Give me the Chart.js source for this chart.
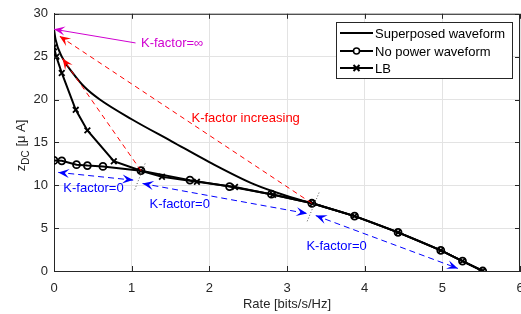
<!DOCTYPE html>
<html>
<head>
<meta charset="utf-8">
<script src="https://cdn.jsdelivr.net/npm/chart.js@4.4.0/dist/chart.umd.min.js"></script>
<style>
  html, body { margin: 0; padding: 0; background: #fff; }
</style>
</head>
<body>
<canvas id="mainChart" width="521" height="314"></canvas>
<script>
// data
const superposedRate = [0, 0.02, 0.1, 0.25, 0.4, 0.59, 1.0, 1.52, 2.0, 2.58, 3.0, 3.32, 3.87, 4.43, 4.98, 5.26, 5.52];
const superposedZ = [28.2, 27.0, 25.0, 23.0, 21.4, 20.0, 17.7, 15.1, 12.7, 10.1, 8.75, 7.9, 6.4, 4.5, 2.4, 1.15, 0];

const noPowerRate = [0, 0.1, 0.29, 0.43, 0.63, 1.12, 1.75, 2.26, 2.8, 3.32, 3.87, 4.43, 4.98, 5.26, 5.52];
const noPowerZ = [12.9, 12.85, 12.4, 12.3, 12.2, 11.7, 10.6, 9.85, 8.96, 7.9, 6.4, 4.5, 2.4, 1.15, 0];

const lbRate = [0, 0.03, 0.1, 0.28, 0.43, 0.77, 1.12, 1.39, 1.84, 2.33, 2.82, 3.33, 3.87, 4.43, 4.98, 5.26, 5.52];
const lbZ = [26.1, 25.0, 23.1, 18.8, 16.4, 12.8, 11.7, 11.0, 10.4, 9.8, 8.9, 7.9, 6.4, 4.5, 2.4, 1.15, 0];

const seriesLabels = ["Superposed waveform", "No power waveform", "LB"];
const xTicks = [0, 1, 2, 3, 4, 5, 6];
const yTicks = [0, 5, 10, 15, 20, 25, 30];

// annotations, in data units
const arrows = [
  { from: [1.05, 26.6], to: [0.0, 28.2], color: "#d000d0", dash: [], heads: "end" },
  { from: [3.32, 7.9], to: [0.07, 27.4], color: "#ff0000", dash: [5, 4], heads: "end" },
  { from: [1.12, 11.7], to: [0.11, 24.8], color: "#ff0000", dash: [5, 4], heads: "end" },
  { from: [0.055, 11.5], to: [1.02, 10.6], color: "#0000ff", dash: [6, 4], heads: "both" },
  { from: [1.14, 10.2], to: [3.26, 6.7], color: "#0000ff", dash: [6, 4], heads: "both" },
  { from: [3.37, 6.46], to: [5.2, 0.3], color: "#0000ff", dash: [6, 4], heads: "both" }
];
const dottedMarks = [
  { from: [1.04, 9.5], to: [1.18, 12.7] },
  { from: [3.26, 5.8], to: [3.42, 9.3] }
];
const notes = [
  { text: "K-factor=\u221E", at: [1.12, 26.5], color: "#d000d0" },
  { text: "K-factor increasing", at: [1.77, 17.8], color: "#ff0000" },
  { text: "K-factor=0", at: [0.12, 9.6], color: "#0000ff" },
  { text: "K-factor=0", at: [1.23, 7.8], color: "#0000ff" },
  { text: "K-factor=0", at: [3.25, 2.9], color: "#0000ff" }
];

const FONT = "'Liberation Sans', Arial, Helvetica, sans-serif";
const AXIS = "#262626";

function toPoints(xs, ys) {
  return xs.map((x, i) => ({ x, y: ys[i] }));
}

function drawHead(ctx, x1, y1, x2, y2, color) {
  const ang = Math.atan2(y2 - y1, x2 - x1);
  const L = 11, W = 4.5;
  ctx.save();
  ctx.translate(x2, y2);
  ctx.rotate(ang);
  ctx.setLineDash([]);
  ctx.fillStyle = color;
  ctx.beginPath();
  ctx.moveTo(0, 0);
  ctx.lineTo(-L, -W);
  ctx.lineTo(-L * 0.6, 0);
  ctx.lineTo(-L, W);
  ctx.closePath();
  ctx.fill();
  ctx.restore();
}

const figurePlugin = {
  id: "figurePlugin",
  afterDraw(chart) {
    const { ctx, chartArea: a, scales } = chart;
    const sx = scales.x, sy = scales.y;

    // box and inward ticks
    ctx.save();
    ctx.strokeStyle = AXIS;
    ctx.lineWidth = 1;
    ctx.beginPath();
    ctx.moveTo(a.left + 0.5, a.top + 0.5);
    ctx.lineTo(a.right - 0.5, a.top + 0.5);
    ctx.lineTo(a.right - 0.5, a.bottom);
    ctx.stroke();
    ctx.beginPath();
    xTicks.forEach(v => {
      const px = Math.round(sx.getPixelForValue(v)) + 0.5;
      ctx.moveTo(px, a.bottom); ctx.lineTo(px, a.bottom - 5);
      ctx.moveTo(px, a.top); ctx.lineTo(px, a.top + 5);
    });
    yTicks.forEach(v => {
      const py = Math.round(sy.getPixelForValue(v)) + 0.5;
      ctx.moveTo(a.left, py); ctx.lineTo(a.left + 5, py);
      ctx.moveTo(a.right, py); ctx.lineTo(a.right - 5, py);
    });
    ctx.stroke();
    ctx.restore();

    // dotted tangent marks
    ctx.save();
    ctx.strokeStyle = "#555";
    ctx.lineWidth = 1;
    ctx.setLineDash([1, 2]);
    dottedMarks.forEach(m => {
      ctx.beginPath();
      ctx.moveTo(sx.getPixelForValue(m.from[0]), sy.getPixelForValue(m.from[1]));
      ctx.lineTo(sx.getPixelForValue(m.to[0]), sy.getPixelForValue(m.to[1]));
      ctx.stroke();
    });
    ctx.restore();

    // arrows
    arrows.forEach(ar => {
      const x1 = sx.getPixelForValue(ar.from[0]), y1 = sy.getPixelForValue(ar.from[1]);
      const x2 = sx.getPixelForValue(ar.to[0]), y2 = sy.getPixelForValue(ar.to[1]);
      ctx.save();
      ctx.strokeStyle = ar.color;
      ctx.lineWidth = 1;
      ctx.setLineDash(ar.dash);
      ctx.beginPath();
      ctx.moveTo(x1, y1);
      ctx.lineTo(x2, y2);
      ctx.stroke();
      ctx.restore();
      drawHead(ctx, x1, y1, x2, y2, ar.color);
      if (ar.heads === "both") drawHead(ctx, x2, y2, x1, y1, ar.color);
    });

    // text notes
    ctx.save();
    ctx.font = "13px " + FONT;
    ctx.textBaseline = "middle";
    ctx.textAlign = "left";
    notes.forEach(n => {
      ctx.fillStyle = n.color;
      ctx.fillText(n.text, sx.getPixelForValue(n.at[0]), sy.getPixelForValue(n.at[1]));
    });
    ctx.restore();

    // legend
    ctx.save();
    const bx = 336, by = 22, bw = 176, bh = 56;
    ctx.fillStyle = "#fff";
    ctx.fillRect(bx, by, bw, bh);
    ctx.strokeStyle = AXIS;
    ctx.lineWidth = 1;
    ctx.strokeRect(bx + 0.5, by + 0.5, bw, bh);
    const rows = [33, 51, 68];
    ctx.font = "13px " + FONT;
    ctx.textBaseline = "middle";
    chart.data.datasets.forEach((ds, i) => {
      const y = rows[i];
      ctx.strokeStyle = "#000";
      ctx.lineWidth = 2;
      ctx.beginPath();
      ctx.moveTo(340, y); ctx.lineTo(373, y);
      ctx.stroke();
      const cx = 356.5;
      if (ds.pointStyle === "circle" && ds.pointRadius > 0) {
        ctx.lineWidth = 1.5;
        ctx.fillStyle = "#fff";
        ctx.beginPath();
        ctx.arc(cx, y, 3, 0, Math.PI * 2);
        ctx.fill();
        ctx.stroke();
      } else if (ds.pointStyle === "crossRot") {
        ctx.lineWidth = 2;
        ctx.beginPath();
        ctx.moveTo(cx - 3, y - 3); ctx.lineTo(cx + 3, y + 3);
        ctx.moveTo(cx - 3, y + 3); ctx.lineTo(cx + 3, y - 3);
        ctx.stroke();
      }
      ctx.fillStyle = "#000";
      ctx.fillText(ds.label, 375, y + 1);
    });
    ctx.restore();

    // y axis title with subscript
    ctx.save();
    ctx.translate(25, (a.top + a.bottom) / 2 + 3);
    ctx.rotate(-Math.PI / 2);
    ctx.fillStyle = AXIS;
    ctx.textBaseline = "alphabetic";
    ctx.textAlign = "left";
    const main = "13px " + FONT, sub = "10px " + FONT;
    ctx.font = main; const w1 = ctx.measureText("z").width;
    ctx.font = sub; const w2 = ctx.measureText("DC").width;
    ctx.font = main; const w3 = ctx.measureText(" [\u03BC A]").width;
    let x = -(w1 + w2 + w3) / 2;
    ctx.font = main; ctx.fillText("z", x, 0); x += w1;
    ctx.font = sub; ctx.fillText("DC", x, 4); x += w2;
    ctx.font = main; ctx.fillText(" [\u03BC A]", x, 0);
    ctx.restore();
  }
};

const ctx = document.getElementById("mainChart").getContext("2d");
new Chart(ctx, {
  type: "scatter",
  data: {
    datasets: [
      {
        label: seriesLabels[0],
        data: toPoints(superposedRate, superposedZ),
        showLine: true,
        borderColor: "#000",
        borderWidth: 2,
        pointRadius: 0,
        pointStyle: "circle",
        cubicInterpolationMode: "monotone"
      },
      {
        label: seriesLabels[1],
        data: toPoints(noPowerRate, noPowerZ),
        showLine: true,
        borderColor: "#000",
        borderWidth: 2,
        pointStyle: "circle",
        pointRadius: 3.5,
        pointBorderWidth: 1.8,
        pointBackgroundColor: "rgba(255,255,255,0)",
        pointBorderColor: "#000"
      },
      {
        label: seriesLabels[2],
        data: toPoints(lbRate, lbZ),
        showLine: true,
        borderColor: "#000",
        borderWidth: 2,
        pointStyle: "crossRot",
        pointRadius: 4,
        pointBorderWidth: 1.8,
        pointBorderColor: "#000"
      }
    ]
  },
  options: {
    responsive: false,
    animation: false,
    devicePixelRatio: 1,
    layout: { autoPadding: false, padding: { top: 11, right: 1, left: 0, bottom: 0 } },
    plugins: { legend: { display: false }, tooltip: { enabled: false } },
    scales: {
      x: {
        type: "linear",
        min: 0,
        max: 6,
        afterBuildTicks: s => { s.ticks = xTicks.map(v => ({ value: v })); },
        afterFit: s => { s.height = 43; s.paddingLeft = 0; s.paddingRight = 0; },
        ticks: { color: AXIS, font: { family: FONT, size: 13 }, padding: 10 },
        grid: { color: "#e3e3e3", drawTicks: false },
        border: { color: AXIS, width: 1 },
        title: {
          display: true,
          text: "Rate [bits/s/Hz]",
          color: AXIS,
          font: { family: FONT, size: 13 },
          padding: { top: 0, bottom: 2 }
        }
      },
      y: {
        type: "linear",
        min: 0,
        max: 30,
        afterBuildTicks: s => { s.ticks = yTicks.map(v => ({ value: v })); },
        afterFit: s => { s.width = 54; },
        ticks: { color: AXIS, font: { family: FONT, size: 13 }, padding: 6 },
        grid: { color: "#e3e3e3", drawTicks: false },
        border: { color: AXIS, width: 1 }
      }
    }
  },
  plugins: [figurePlugin]
});
</script>
</body>
</html>
